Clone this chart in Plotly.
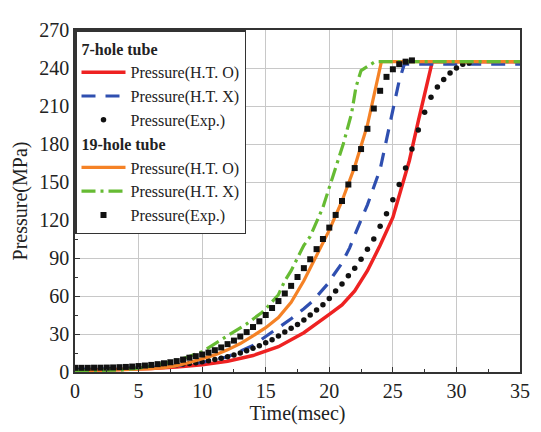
import plotly.graph_objects as go

# ---- 7-hole tube ----
t_red = [0, 2, 4, 6, 8, 10, 12, 14, 16, 18, 20, 21, 22, 23, 23.6, 24, 25, 26, 26.3, 27, 28.1, 35]
p_red = [1, 1.4, 2.0, 2.8, 4.0, 5.8, 8.5, 13, 20, 31, 45.5, 53, 64, 80, 92, 100, 122, 155, 167, 198, 245, 245]

t_blue = [0, 2, 4, 6, 8, 10, 12, 14, 16, 17, 18, 18.7, 20, 20.3, 21, 21.6, 22, 22.65, 23, 24, 25, 25.5, 25.9, 35]
p_blue = [2, 2.3, 2.8, 3.6, 5, 7.5, 12, 21, 35, 42, 50, 56, 71, 76, 86, 98, 108, 123, 132, 160, 206, 230, 243, 243]

t_exp7 = [0, 0.5, 1, 1.5, 2, 2.5, 3, 3.5, 4, 4.5, 5, 5.5, 6, 6.5, 7, 7.5, 8, 8.5, 9, 9.5,
          10, 10.5, 11, 11.5, 12, 12.5, 13, 13.5, 14, 14.5, 15, 15.5, 16, 16.5, 17, 17.5, 18, 18.5, 19, 19.5,
          20, 20.5, 21, 21.5, 22, 22.5, 23, 23.5, 24, 24.5, 25, 25.5, 26, 26.5, 27, 27.5, 28, 28.5, 29, 29.5,
          30, 30.5, 31]
p_exp7 = [2.5, 2.5, 2.6, 2.6, 2.7, 2.8, 2.9, 3.0, 3.2, 3.4, 3.6, 3.9, 4.2, 4.5, 4.9, 5.3, 5.8, 6.3, 6.8, 7.4,
          8.1, 8.9, 9.8, 10.8, 12, 13.4, 15, 16.8, 18.8, 20.8, 23, 25.5, 28.5, 31.5, 34.5, 37.5, 41, 45, 49, 53,
          58, 64, 69.5, 76, 82, 89, 97, 105, 115, 125, 136, 148, 161, 176, 191, 205, 217, 225, 231, 236,
          240, 243, 244]

# ---- 19-hole tube ----
t_orange = [0, 2, 4, 6, 7, 8, 9, 10, 11, 12, 13, 14, 15, 16, 17, 18, 19, 20, 21, 22, 23, 24.1, 35]
p_orange = [0.5, 1, 1.6, 2.6, 3.5, 5, 7.5, 10.5, 13.5, 17.5, 22.5, 28.5, 35, 43, 55, 72, 92, 112, 135, 162, 195, 245, 245]

t_green = [0, 2, 3.6, 5, 6.2, 7.5, 8.8, 10, 10.65, 11.5, 12.5, 13.5, 14.7, 15.2, 16, 16.5, 17, 18, 18.5, 19,
           19.5, 20.3, 21.1, 21.75, 22.1, 22.5, 23.6, 35]
p_green = [1, 1.2, 1.5, 3, 5, 8, 11.6, 16, 20, 25, 31.5, 38, 47, 52, 61, 72, 80, 100, 107, 118,
           130, 155, 180, 204, 225, 238, 245, 245]

t_exp19 = [0, 0.5, 1, 1.5, 2, 2.5, 3, 3.5, 4, 4.5, 5, 5.5, 6, 6.5, 7, 7.5, 8, 8.5, 9, 9.5,
           10, 10.5, 11, 11.5, 12, 12.5, 13, 13.5, 14, 14.5, 15, 15.5, 16, 16.5, 17, 17.5, 18, 18.5, 19, 19.5,
           20, 20.5, 21, 21.5, 22, 22.5, 23, 23.5, 24, 24.5, 25, 25.5, 26, 26.5]
p_exp19 = [3.3, 3.3, 3.3, 3.4, 3.4, 3.5, 3.6, 3.8, 4.0, 4.3, 4.7, 5.1, 5.6, 6.2, 6.9, 7.7, 8.6, 9.8, 11.3, 12.5,
           13.8, 15.3, 17.2, 19.4, 22, 24.8, 28, 31.5, 35.5, 40, 45, 50.5, 56, 62, 68, 75, 82, 89, 97, 105,
           114, 124, 135, 148, 161, 176, 192, 208, 222, 233, 239, 243, 245, 246]

x_ticks = [0, 5, 10, 15, 20, 25, 30, 35]
y_ticks = [0, 30, 60, 90, 120, 150, 180, 210, 240, 270]

FONT = "Liberation Serif"

fig = go.Figure()
fig.add_trace(go.Scatter(x=t_red, y=p_red, mode="lines", name="Pressure(H.T. O)",
                         line=dict(color="#ee2222", width=3.5),
                         legendgroup="g7", legendgrouptitle=dict(text="<b>7-hole tube</b>")))
fig.add_trace(go.Scatter(x=t_blue, y=p_blue, mode="lines", name="Pressure(H.T. X)",
                         line=dict(color="#2f4fb0", width=3.2, dash="14px,10px"),
                         legendgroup="g7"))
fig.add_trace(go.Scatter(x=t_exp7, y=p_exp7, mode="markers", name="Pressure(Exp.)",
                         marker=dict(color="#111111", size=5.5, symbol="circle"),
                         legendgroup="g7"))
fig.add_trace(go.Scatter(x=t_orange, y=p_orange, mode="lines", name="Pressure(H.T. O)",
                         line=dict(color="#f58226", width=3.2),
                         legendgroup="g19", legendgrouptitle=dict(text="<b>19-hole tube</b>")))
fig.add_trace(go.Scatter(x=t_green, y=p_green, mode="lines", name="Pressure(H.T. X)",
                         line=dict(color="#66bb33", width=3.2, dash="14px,5px,3px,5px"),
                         legendgroup="g19"))
fig.add_trace(go.Scatter(x=t_exp19, y=p_exp19, mode="markers", name="Pressure(Exp.)",
                         marker=dict(color="#111111", size=6, symbol="square"),
                         legendgroup="g19"))

axis_common = dict(
    showline=True, linecolor="#333333", linewidth=1.5, mirror=True,
    showgrid=True, gridcolor="#c8c8c8", gridwidth=1,
    ticks="inside", ticklen=5, tickcolor="#333333",
    tickfont=dict(family=FONT, size=20, color="#222222"),
    zeroline=False,
)

fig.update_layout(
    width=533, height=424,
    margin=dict(l=66, r=20, t=11, b=60),
    paper_bgcolor="white", plot_bgcolor="white",
    font=dict(family=FONT, color="#222222"),
    xaxis=dict(range=[0, 35], tickvals=x_ticks,
               title=dict(text="Time(msec)", font=dict(family=FONT, size=20), standoff=4),
               minor=dict(dtick=2.5, ticks="inside", ticklen=3, tickcolor="#333333", showgrid=False),
               **axis_common),
    yaxis=dict(range=[0, 270], tickvals=y_ticks,
               title=dict(text="Pressure(MPa)", font=dict(family=FONT, size=20), standoff=6),
               minor=dict(dtick=15, ticks="inside", ticklen=3, tickcolor="#333333", showgrid=False),
               **axis_common),
    legend=dict(x=0, y=1, xanchor="left", yanchor="top",
                bgcolor="white", bordercolor="#333333", borderwidth=1.5,
                font=dict(family=FONT, size=16, color="#222222"),
                grouptitlefont=dict(family=FONT, size=16, color="#222222"),
                tracegroupgap=0, itemwidth=44, traceorder="grouped"),
    showlegend=True,
)

fig.write_html("out.html")
